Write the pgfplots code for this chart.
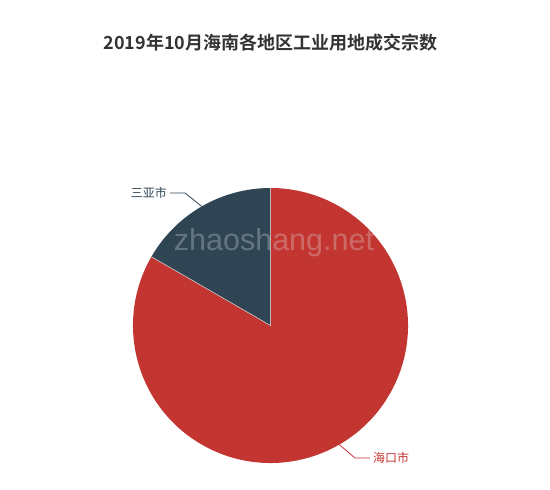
\documentclass[border=0pt]{standalone}
\usepackage{pgfplots}
\pgfplotsset{compat=1.18}
\usepackage{pgfplotstable}
\usepackage{fontspec}
\setmainfont{Liberation Sans}
\newfontfamily\cjk{Noto Sans CJK SC}
\newfontfamily\cjkb{Noto Sans CJK SC Bold}
\definecolor{cred}{HTML}{C23531}
\definecolor{cdark}{HTML}{2F4554}
\definecolor{ctitle}{HTML}{333333}
\pgfplotstableread{
name value
海口市 5
三亚市 1
}\datatable
\begin{document}
\begin{tikzpicture}
\pgfplotstablegetelem{0}{value}\of\datatable \let\va\pgfplotsretval
\pgfplotstablegetelem{1}{value}\of\datatable \let\vb\pgfplotsretval
\pgfmathsetmacro\ab{360*\vb/(\va+\vb)}
\pgfmathsetmacro\sa{90+\ab}
\pgfmathsetmacro\ma{90+\ab/2}
\pgfmathsetmacro\mb{90+\ab+(360-\ab)/2}
\begin{axis}[
  scale only axis, width=550bp, height=490bp,
  xmin=0, xmax=550, ymin=0, ymax=490,
  hide axis, clip=false,
]
\path (axis cs:0,0) rectangle (axis cs:550,490);
% red slice
\fill[cred] (axis cs:270.5,164.5) -- ([shift={(\sa:137.5bp)}]axis cs:270.5,164.5)
  arc[start angle=\sa, end angle=450, radius=137.5bp] -- cycle;
% dark slice
\fill[cdark] (axis cs:270.5,164.5) -- ([shift={(90:137.5bp)}]axis cs:270.5,164.5)
  arc[start angle=90, end angle=\sa, radius=137.5bp] -- cycle;
\draw[white!75!gray, line width=0.5bp] ([shift={(90:137.5bp)}]axis cs:270.5,164.5) -- (axis cs:270.5,164.5) -- ([shift={(\sa:137.5bp)}]axis cs:270.5,164.5);
% watermark
\node[text=white!80!gray, opacity=0.3, font=\fontsize{30.5bp}{35bp}\selectfont] at (axis cs:274,247) {zhaoshang.net};
% leader lines
\draw[cdark, line width=0.8bp] ([shift={(\ma:137.5bp)}]axis cs:270.5,164.5) -- (axis cs:185,297) -- (axis cs:170,297);
\node[anchor=east, text=cdark, font=\cjk\fontsize{12bp}{14bp}\selectfont, inner sep=0pt] at (axis cs:167,297) {三亚市};
\draw[cred, line width=0.8bp] ([shift={(\mb:137.5bp)}]axis cs:270.5,164.5) -- (axis cs:355,32) -- (axis cs:370,32);
\node[anchor=west, text=cred, font=\cjk\fontsize{12bp}{14bp}\selectfont, inner sep=0pt] at (axis cs:373,32) {海口市};
% title
\node[text=ctitle, font=\cjkb\fontsize{18bp}{21bp}\selectfont] at (axis cs:270.5,447) {2019年10月海南各地区工业用地成交宗数};
\end{axis}
\end{tikzpicture}
\end{document}
